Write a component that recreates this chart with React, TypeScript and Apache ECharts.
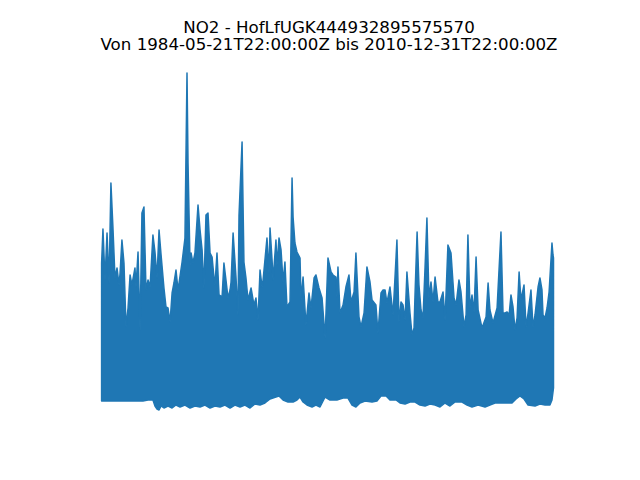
import React, { useEffect, useRef } from "react";
import * as echarts from "echarts";

const titleLine1 = "NO2 - HofLfUGK444932895575570";
const titleLine2 = "Von 1984-05-21T22:00:00Z bis 2010-12-31T22:00:00Z";

// Upper envelope of the series (decimal years, value)
const upperYears = [
  1984.33, 1984.41, 1984.53, 1984.65, 1984.77, 1984.88, 1985.0, 1985.12, 1985.24, 1985.36,
  1985.42, 1985.53, 1985.65, 1985.77, 1985.89, 1986.01, 1986.12, 1986.3, 1986.36, 1986.48,
  1986.6, 1986.71, 1986.83, 1986.95, 1987.07, 1987.19, 1987.36, 1987.48, 1987.6, 1987.72,
  1987.84, 1988.01, 1988.13, 1988.25, 1988.37, 1988.49, 1988.6, 1988.72, 1988.84, 1989.08,
  1989.25, 1989.37, 1989.43, 1989.55, 1989.61, 1989.72, 1989.84, 1990.02, 1990.14, 1990.26,
  1990.37, 1990.49, 1990.61, 1990.73, 1990.85, 1990.96, 1991.02, 1991.14, 1991.26, 1991.44,
  1991.55, 1991.67, 1991.79, 1991.91, 1991.97, 1992.09, 1992.26, 1992.38, 1992.44, 1992.62,
  1992.73, 1992.85, 1992.97, 1993.15, 1993.32, 1993.44, 1993.56, 1993.68, 1993.8, 1993.86,
  1993.97, 1994.09, 1994.21, 1994.27, 1994.39, 1994.45, 1994.62, 1994.68, 1994.8, 1994.92,
  1995.04, 1995.15, 1995.27, 1995.45, 1995.57, 1995.63, 1995.74, 1995.86, 1996.04, 1996.1,
  1996.22, 1996.39, 1996.57, 1996.69, 1996.87, 1996.98, 1997.16, 1997.34, 1997.52, 1997.69,
  1997.87, 1997.99, 1998.16, 1998.22, 1998.28, 1998.4, 1998.58, 1998.75, 1998.93, 1999.05,
  1999.23, 1999.34, 1999.52, 1999.64, 1999.82, 1999.99, 2000.17, 2000.29, 2000.52, 2000.64,
  2000.82, 2000.94, 2001.06, 2001.17, 2001.35, 2001.53, 2001.76, 2001.88, 2002.0, 2002.12,
  2002.24, 2002.35, 2002.53, 2002.65, 2002.77, 2002.83, 2002.95, 2003.06, 2003.18, 2003.3,
  2003.42, 2003.53, 2003.65, 2003.77, 2003.89, 2004.01, 2004.18, 2004.3, 2004.48, 2004.6,
  2004.77, 2004.95, 2005.13, 2005.25, 2005.42, 2005.54, 2005.72, 2005.84, 2005.95, 2006.07,
  2006.19, 2006.31, 2006.43, 2006.55, 2006.78, 2007.02, 2007.14, 2007.25, 2007.43, 2007.67,
  2007.9, 2008.02, 2008.14, 2008.26, 2008.38, 2008.49, 2008.61, 2008.73, 2008.85, 2008.97,
  2009.08, 2009.26, 2009.38, 2009.5, 2009.67, 2009.79, 2009.91, 2010.09, 2010.2, 2010.32,
  2010.38, 2010.5, 2010.62, 2010.74, 2010.91, 2010.97, 2011.0,
];
const upperValues = [
  69, 86, 60.5, 84, 59, 109, 86.5, 61.5, 66.5, 58,
  64, 80.5, 69, 37, 46.5, 63, 58, 66.5, 57, 74.5,
  35.5, 94, 97, 55.5, 60.5, 57, 83, 74.5, 61.5, 85.5,
  73, 56.5, 47, 46.5, 39.5, 54, 59, 65.5, 55.5, 69.5,
  81.5, 164, 119, 68, 74, 69, 74, 98, 85.5, 75.5,
  56.5, 93, 94, 74, 72, 62, 58, 74, 53, 52,
  69, 60.5, 51.5, 55.5, 59.5, 84, 62, 43, 93, 129.5,
  69.5, 61.5, 50.5, 56.5, 48, 51.5, 40.5, 65.5, 57, 60.5,
  70.5, 81.5, 64, 86.5, 70.5, 60.5, 80.5, 68, 81.5, 75.5,
  59.5, 69.5, 47, 49.5, 111.5, 92, 79, 74.5, 71.5, 50.5,
  62, 38, 54, 46.5, 61.5, 63, 56.5, 51.5, 31.5, 71.5,
  64.5, 63, 62, 52, 67, 44, 48, 57, 63, 49.5,
  54.5, 74, 42, 37, 44, 67, 59.5, 50.5, 48, 34,
  54, 55.5, 55.5, 49, 57, 43, 80.5, 39.5, 49.5, 48,
  40.5, 64.5, 44, 33, 36.5, 54, 84.5, 58, 45.5, 41.5,
  67, 91.5, 51.5, 59.5, 49.5, 62, 49.5, 49.5, 54.5, 40.5,
  78, 74, 51.5, 48, 60.5, 54.5, 37, 43, 83, 46.5,
  53, 44.5, 72, 45.5, 36.5, 42, 59, 45.5, 39, 46.5,
  84.5, 44, 44, 44.5, 43, 53, 47, 35.5, 41.5, 64.5,
  50.5, 58, 37, 44, 55.5, 37, 43, 57, 61.5, 55.5,
  43, 41.5, 46.5, 54.5, 79, 73, 71.5,
];

// Lower envelope of the series (decimal years, value)
const lowerYears = [
  1984.33, 1986.77, 1987.07, 1987.36, 1987.48, 1987.6, 1987.72, 1987.84, 1988.01, 1988.25,
  1988.49, 1988.72, 1988.96, 1989.25, 1989.55, 1989.84, 1990.14, 1990.43, 1990.73, 1991.02,
  1991.32, 1991.61, 1991.91, 1992.2, 1992.5, 1992.79, 1993.09, 1993.38, 1993.68, 1993.97,
  1994.27, 1994.62, 1994.8, 1995.04, 1995.33, 1995.63, 1995.86, 1996.04, 1996.22, 1996.45,
  1996.75, 1996.98, 1997.22, 1997.52, 1997.81, 1998.22, 1998.58, 1998.87, 1999.11, 1999.34,
  1999.58, 1999.88, 2000.29, 2000.58, 2000.82, 2001.12, 2001.35, 2001.71, 2001.94, 2002.24,
  2002.53, 2002.83, 2003.12, 2003.42, 2003.71, 2004.01, 2004.3, 2004.6, 2004.89, 2005.19,
  2005.6, 2005.9, 2006.19, 2006.55, 2006.96, 2007.25, 2007.55, 2008.14, 2008.55, 2008.79,
  2009.02, 2009.26, 2009.5, 2009.91, 2010.2, 2010.5, 2010.79, 2010.91, 2011.0,
];
const lowerValues = [
  0, 0, 0.5, 0.5, -2.5, -4, -4.5, -2.5, -3.5, -2.5,
  -3.5, -2, -3, -2, -3.5, -2.5, -3, -2, -3.5, -2.5,
  -3, -2, -3.5, -2, -3, -2, -3.5, -1.5, -2, -1,
  1, 2, 2.5, 0.5, -0.5, -0.5, 0.5, 2, -0.5, -2,
  -3, -2, -3, 2, 0.5, 0.5, 1.5, 1.5, -2, -3,
  -1, 0, -0.5, 0, 2.5, 2.5, 0.5, 0.5, -1, -1.5,
  -0.5, -0.5, -2, -2.5, -1.5, -2, -3, -1, -2.5, -0.5,
  -0.5, -2, -3, -2, -3, -2, -1, -1, -1, 1,
  2.5, 1, -2, -2.5, -1.5, -2, -2, 0.5, 6.5,
];

const xMin = 1983.055;
const xMax = 2012.328;
const yMin = -13.1;
const yMax = 171.7;

const BLUE = "#1f77b4";

const titleStyle = {
  fontFamily: "DejaVu Sans",
  fontSize: 16.67,
  fontWeight: "normal",
  color: "#000000",
  lineHeight: 16.6,
};

export default function App() {
  const ref = useRef<HTMLDivElement>(null);
  useEffect(() => {
    if (!ref.current) return;
    const chart = echarts.init(ref.current, undefined, { renderer: "svg" });
    chart.setOption({
      animation: false,
      backgroundColor: "#ffffff",
      title: [
        {
          text: titleLine1,
          left: 329,
          top: 19,
          textAlign: "center",
          padding: 0,
          textStyle: titleStyle,
        },
        {
          text: titleLine2,
          left: 329,
          top: 36,
          textAlign: "center",
          padding: 0,
          textStyle: titleStyle,
        },
      ],
      grid: { left: 80, top: 57.6, width: 496, height: 369.6, show: false },
      xAxis: { type: "value", min: xMin, max: xMax, show: false },
      yAxis: { type: "value", min: yMin, max: yMax, show: false },
      series: [
        {
          type: "custom",
          coordinateSystem: "cartesian2d",
          data: [[upperYears[0], upperValues[0]]],
          clip: false,
          renderItem: (params: any, api: any) => {
            const pts: number[][] = [];
            for (let i = 0; i < upperYears.length; i++) {
              pts.push(api.coord([upperYears[i], upperValues[i]]));
            }
            for (let i = lowerYears.length - 1; i >= 0; i--) {
              pts.push(api.coord([lowerYears[i], lowerValues[i]]));
            }
            return {
              type: "polygon",
              shape: { points: pts },
              style: {
                fill: BLUE,
                stroke: BLUE,
                lineWidth: 1.5,
                lineJoin: "round",
              },
            };
          },
        },
      ],
    });
    return () => chart.dispose();
  }, []);
  return (
    <div
      ref={ref}
      style={{ position: "fixed", left: 0, top: 0, width: 640, height: 480 }}
    />
  );
}
